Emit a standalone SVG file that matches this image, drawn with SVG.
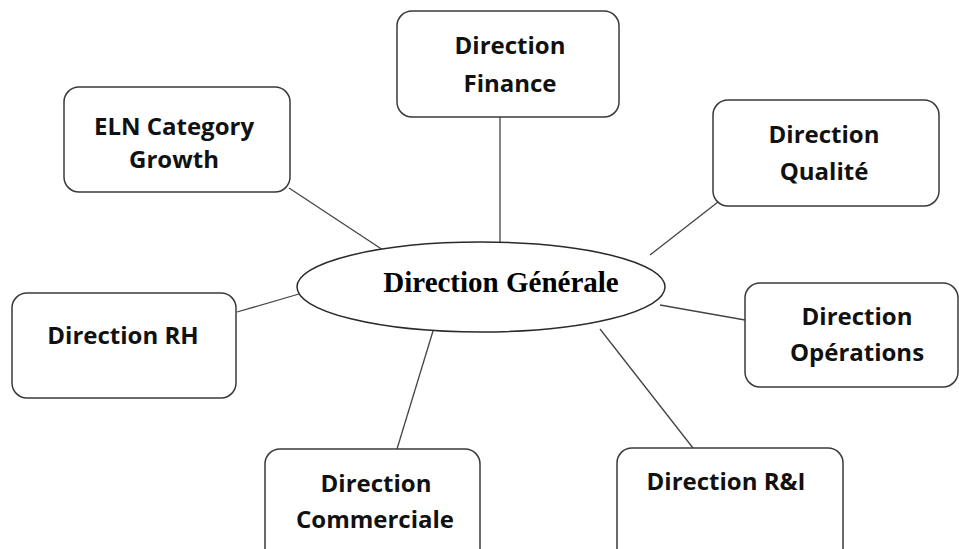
<svg xmlns="http://www.w3.org/2000/svg" width="959" height="549" viewBox="0 0 959 549">
  <style>
    .box { fill: #ffffff; stroke: #3a3a3a; stroke-width: 1.5; }
    .hub { fill: #ffffff; stroke: #2a2a2a; stroke-width: 1.5; }
    .lbl { font-family: "Open Sans", "Noto Sans", "Liberation Sans", sans-serif; font-weight: bold; font-size: 24px; fill: #111111; text-anchor: middle; }
    .hubLbl { font-family: "Liberation Serif", "DejaVu Serif", serif; font-weight: bold; font-size: 29px; fill: #000000; text-anchor: middle; }
    .link { stroke: #444444; stroke-width: 1.3; fill: none; }
  </style>
  <rect width="959" height="549" fill="#ffffff"/>

  <!-- connectors from the central ellipse to each department -->
  <g id="connectors">
    <line class="link" x1="500" y1="117" x2="500" y2="243"/>
    <line class="link" x1="289" y1="188" x2="383" y2="250"/>
    <line class="link" x1="718" y1="202" x2="650" y2="255"/>
    <line class="link" x1="237" y1="312" x2="299" y2="294"/>
    <line class="link" x1="660" y1="305" x2="745" y2="320"/>
    <line class="link" x1="433" y1="331" x2="397" y2="449"/>
    <line class="link" x1="600" y1="329" x2="693" y2="448"/>
  </g>

  <g id="direction-generale">
    <ellipse class="hub" cx="481" cy="287" rx="184" ry="45"/>
    <text class="hubLbl" x="501" y="292">Direction Générale</text>
  </g>

  <g id="direction-finance">
    <rect class="box" x="397" y="11" width="222" height="106" rx="15"/>
    <text class="lbl" x="510" y="54">Direction</text>
    <text class="lbl" x="510" y="92">Finance</text>
  </g>

  <g id="eln-category-growth">
    <rect class="box" x="64" y="87" width="226" height="105" rx="15"/>
    <text class="lbl" x="174" y="135">ELN Category</text>
    <text class="lbl" x="174" y="168">Growth</text>
  </g>

  <g id="direction-qualite">
    <rect class="box" x="713" y="100" width="226" height="106" rx="15"/>
    <text class="lbl" x="824" y="143">Direction</text>
    <text class="lbl" x="824" y="180">Qualité</text>
  </g>

  <g id="direction-rh">
    <rect class="box" x="12" y="293" width="224" height="105" rx="15"/>
    <text class="lbl" x="123" y="344">Direction RH</text>
  </g>

  <g id="direction-operations">
    <rect class="box" x="745" y="283" width="213" height="104" rx="15"/>
    <text class="lbl" x="857" y="325">Direction</text>
    <text class="lbl" x="857" y="361">Opérations</text>
  </g>

  <g id="direction-commerciale">
    <rect class="box" x="265" y="449" width="215" height="120" rx="15"/>
    <text class="lbl" x="376" y="492">Direction</text>
    <text class="lbl" x="375" y="528">Commerciale</text>
  </g>

  <g id="direction-ri">
    <rect class="box" x="617" y="448" width="226" height="120" rx="15"/>
    <text class="lbl" x="726" y="490">Direction R&amp;I</text>
  </g>
</svg>
